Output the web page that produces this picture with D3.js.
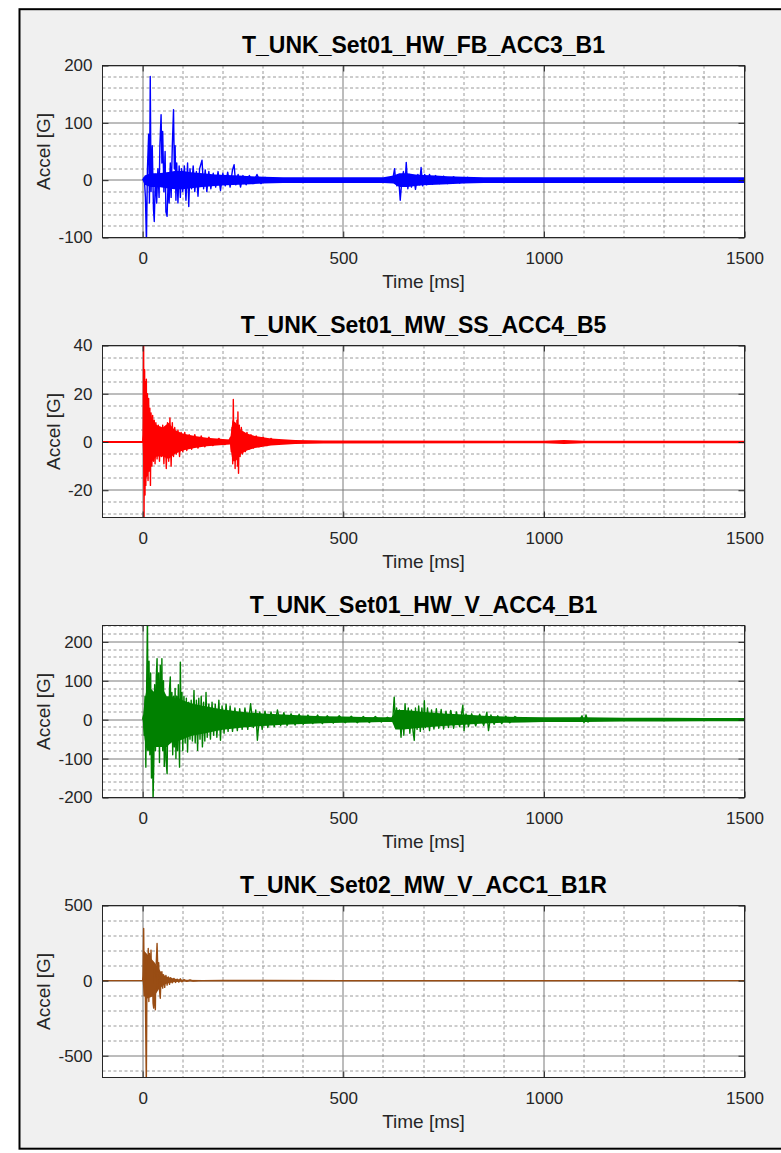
<!DOCTYPE html>
<html>
<head>
<meta charset="utf-8">
<script src="https://cdn.jsdelivr.net/npm/d3@7"></script>
<style>
  body { margin: 0; background: #ffffff; }
  text { font-family: "Liberation Sans", Arial, Helvetica, sans-serif; }
</style>
</head>
<body>
<div id="chart"></div>
<script>
// ********************************************************************************
// 1. Data: four accelerometer channels
//    spikes = [time ms, accel G] extremes, band = [time ms, low G, high G] noise band
// ********************************************************************************

var titles = ["T_UNK_Set01_HW_FB_ACC3_B1", "T_UNK_Set01_MW_SS_ACC4_B5", "T_UNK_Set01_HW_V_ACC4_B1", "T_UNK_Set02_MW_V_ACC1_B1R"];
var colors = ["#0000ff", "#ff0000", "#008000", "#994d14"];

var xDomain = [-100, 1500];
var xTicks = [0, 500, 1000, 1500];
var xMinorStep = 100;

var yDomains = [[-100, 200], [-31.3, 40], [-200, 242], [-645, 500]];
var yTicks = [[-100, 0, 100, 200], [-20, 0, 20, 40], [-200, -100, 0, 100, 200], [-500, 0, 500]];
var yMinorSteps = [20, 5, 20, 100];

var blueSpikes = [[0,0],[4,5],[7,-30],[9.5,-110],[12,20],[15,80],[17,-40],[19,181],[21,-20],[24,60],[27,-50],[29,-72],[32,10],[35,-40],[38,20],[41,-30],[43,60],[46,114],[48,30],[50,85],[53,-20],[56,50],[58,-55],[61,-63],[64,10],[66,-40],[69,30],[71,-30],[74,60],[77,123],[79,20],[81,60],[83,-35],[85,30],[88,-40],[91,25],[94,-30],[97,20],[100,-20],[104,25],[108,-35],[112,30],[115,-46],[118,20],[122,-15],[126,25],[130,-20],[134,15],[138,-28],[142,20],[148,35],[152,-15],[156,18],[160,-20],[165,15],[170,-15],[176,12],[182,-12],[188,15],[194,-18],[200,12],[206,-10],[212,14],[218,-12],[224,18],[228,27],[232,-8],[238,10],[244,-12],[250,8],[258,-8],[266,8],[275,-6],[285,10],[295,-6],[305,5],[315,0],[620,0],[624,4],[628,20],[631,-5],[634,-10],[638,5],[642,-35],[646,0],[650,15],[654,-10],[657,31],[661,-15],[665,10],[670,-12],[675,8],[680,-16],[686,10],[690,-8],[694,22],[698,-10],[703,10],[708,-8],[715,10],[722,-7],[730,8],[740,-6],[750,7],[760,-6],[775,6],[790,-5],[810,5],[830,0],[1500,0]];
var blueBand = [[0,0,0],[5,-8,8],[20,-12,12],[40,-12,12],[60,-14,14],[80,-16,16],[100,-16,16],[120,-14,14],[150,-12,12],[180,-10,10],[210,-9,9],[240,-8,8],[270,-7,7],[300,-6,6],[350,-5,5],[400,-5,5],[500,-5,5],[600,-5,5],[625,-6,8],[640,-12,12],[660,-12,12],[680,-10,10],[700,-9,9],[730,-8,8],[760,-7,7],[800,-6,6],[850,-5,5],[1000,-5,5],[1500,-5,5]];

var redSpikes = [[-100,0],[0,0],[1.5,3],[2.5,45],[3.5,-35],[5,30],[6,-22],[7,25],[8,-18],[9.3,26],[10.5,-14],[12,20],[13.5,-16],[15,18],[16.5,-12],[18,14],[19.5,-18],[21,12],[23,-10],[25,11],[27,-8],[29,9],[31,-9],[33,8],[36,-7],[39,7],[42,-8],[44,6],[47,-6],[50,7],[53,-9],[56,6],[59,-11],[62,8],[65,-8],[68,10],[71,-10],[74,8],[77,-6],[80,6],[84,-5],[88,5],[92,-6],[96,4],[100,-4],[105,4],[110,-3.5],[116,3],[122,-3],[130,3],[138,-2.5],[146,2.5],[155,-2],[165,2],[175,-1.5],[190,1.5],[205,-1],[215,0.5],[219,2],[221,-4],[223,6],[224.5,-9],[226,17.6],[227.5,-6],[229,8],[230.5,-11],[232,7],[233.5,-7],[235,9],[236.5,-10],[237.5,12.5],[239,-13],[241,7],[243,-6],[246,6],[249,-5],[252,4],[256,-4],[260,4],[265,-3],[270,3],[276,-2.5],[283,2.5],[290,-2],[300,2],[310,-1.5],[320,1.5],[335,-1],[350,0],[1500,0]];
var redBand = [[-100,-0.4,0.4],[0,-0.4,0.4],[3,-20,25],[9,-15,20],[15,-12,14],[23,-8,10],[35,-6,7],[50,-6,6],[65,-7,8],[80,-5,5],[100,-3.5,3.5],[130,-2.5,2.5],[160,-1.8,1.8],[200,-1.2,1.2],[218,-1,1],[224,-8,9],[232,-8,8],[245,-5,5],[260,-3.5,3.5],[280,-2.5,2.5],[320,-1.5,1.5],[380,-0.8,0.8],[450,-0.6,0.6],[1000,-0.5,0.5],[1050,-0.8,0.8],[1100,-0.5,0.5],[1500,-0.5,0.5]];

var greenSpikes = [[0,0],[2,10],[4,-40],[6,60],[8,-122],[10,80],[12,260],[14,-60],[16,150],[18,-90],[20,120],[22,-150],[24,50],[26,-210],[28,-100],[30,90],[32,-80],[34,110],[36,157],[38,-40],[40,120],[42,-110],[44,140],[46,-60],[48,157],[50,-80],[52,100],[54,-120],[56,60],[58,-100],[61,-139],[63,40],[65,-60],[67,80],[69,110],[71,-50],[73,70],[75,-90],[77,60],[79,-70],[81,80],[83,-100],[85,60],[87,-80],[89,90],[91,-60],[92,-122],[94,148],[96,-40],[98,70],[100,-80],[103,60],[106,-60],[109,55],[112,-83],[115,45],[118,-50],[121,50],[124,-55],[128,75],[131,-60],[134,50],[137,-79],[140,55],[143,-50],[146,60],[149,-70],[152,45],[155,-55],[158,70],[161,-45],[165,40],[169,-50],[173,45],[177,-40],[181,40],[185,-45],[190,50],[194,-53],[198,35],[203,-35],[208,40],[213,-30],[218,35],[224,-30],[230,30],[236,-28],[242,28],[248,-25],[255,30],[262,-25],[269,41],[276,-20],[282,25],[286,-53],[292,20],[298,-25],[305,22],[312,-20],[320,20],[328,-18],[336,25],[344,-15],[352,18],[360,-15],[370,15],[380,-14],[390,14],[400,-12],[412,12],[424,-10],[436,12],[448,-10],[460,10],[475,-9],[490,10],[505,-8],[520,9],[535,-8],[550,8],[565,-7],[580,8],[595,-6],[610,6],[620,0],[624,10],[627,58],[630,-10],[633,30],[636,-20],[640,25],[644,-45],[648,20],[651,-40],[654,41],[658,-20],[662,30],[666,-35],[670,25],[674,-30],[677,-53],[680,30],[684,-25],[688,35],[692,-30],[696,30],[700,-25],[702,49],[705,-20],[710,30],[715,-28],[720,25],[726,-24],[732,28],[738,-22],[744,26],[750,-24],[756,22],[762,-20],[768,24],[775,-22],[782,20],[790,-18],[798,37],[801,-28],[806,15],[812,-18],[820,15],[830,-16],[840,14],[850,-15],[858,19],[862,-28],[868,12],[876,-12],[885,10],[895,-10],[905,9],[915,-8],[928,8],[940,0],[1090,0],[1095,10],[1100,-8],[1105,12],[1110,-6],[1115,0],[1500,0]];
var greenBand = [[0,0,0],[5,-50,50],[10,-80,80],[20,-80,80],[30,-70,70],[40,-70,80],[50,-70,80],[60,-70,60],[70,-60,60],[80,-55,55],[90,-55,55],[100,-50,50],[120,-42,42],[140,-38,38],[160,-34,34],[180,-30,30],[200,-26,26],[250,-20,20],[300,-16,16],[350,-13,13],[400,-11,11],[450,-9,9],[500,-8,8],[550,-7,7],[600,-6,6],[622,-6,6],[630,-25,25],[650,-25,25],[680,-22,22],[700,-20,20],[750,-16,16],[800,-13,13],[850,-10,10],[900,-8,8],[950,-7,7],[1000,-6,6],[1100,-6,6],[1200,-5,5],[1300,-5,5],[1400,-4,4],[1500,-4,4]];

var brownSpikes = [[-100,0],[0,0],[1,30],[2.6,347],[4,-100],[5.5,150],[7,-120],[9.2,-700],[11,100],[12.5,-80],[14,214],[15.5,-139],[17,180],[19,-100],[20.9,203],[22.5,-60],[24,120],[26,-150],[27.6,-183],[29,50],[30.5,-120],[31.7,-194],[33,60],[34.5,150],[36,247],[38,60],[40,120],[42,-60],[44,-117],[46,30],[48,60],[50,-50],[52,40],[55,-45],[58,35],[61,-30],[64,25],[67,-25],[70,20],[74,-15],[78,15],[82,-12],[86,10],[90,-10],[94,12],[98,-8],[103,6],[110,-5],[118,4],[126,-3],[140,0],[1500,0]];
var brownBand = [[-100,-2,2],[0,-2,2],[3,-100,200],[10,-120,180],[20,-110,150],[30,-100,120],[40,-60,80],[50,-35,40],[60,-20,25],[80,-10,12],[100,-6,6],[150,-4,4],[200,-5,6],[300,-4,5],[500,-4,4],[1500,-3,3]];

var spikeSets = [blueSpikes, redSpikes, greenSpikes, brownSpikes];
var bandSets = [blueBand, redBand, greenBand, brownBand];


// ********************************************************************************
// 2. Set up the figure: dimensions, margins, panel positions
// ********************************************************************************

var svgWidth = 781;
var svgHeight = 1153;

var margin = { left: 102.5, right: 36.5 };
var chartWidth = svgWidth - margin.left - margin.right;   // 642
var chartHeight = 172;
var panelTops = [65.5, 345.5, 625.5, 905.5];

var axisColor = "#262626";

var svg = d3.select("#chart")
    .append("svg")
    .attr("width", svgWidth)
    .attr("height", svgHeight);

// Figure background with its frame
svg.append("rect")
    .attr("x", 19.5)
    .attr("y", 9.2)
    .attr("width", 800)
    .attr("height", 1139.5)
    .attr("fill", "#f0f0f0")
    .attr("stroke", "#000")
    .attr("stroke-width", 2);


// ********************************************************************************
// 3. Draw one panel: grid, data, box, ticks and labels
// ********************************************************************************

function drawPanel(i) {

    var chartGroup = svg.append("g")
        .attr("transform", `translate(${margin.left}, ${panelTops[i]})`);

    var xLinearScale = d3.scaleLinear().domain(xDomain).range([0, chartWidth]);
    var yLinearScale = d3.scaleLinear().domain(yDomains[i]).range([chartHeight, 0]);

    var snap = v => Math.round(v - 0.5) + 0.5;

    // white plot area
    chartGroup.append("rect")
        .attr("width", chartWidth)
        .attr("height", chartHeight)
        .attr("fill", "#fff");

    // minor grid (dotted)
    var xMinor = d3.range(xDomain[0] + xMinorStep, xDomain[1], xMinorStep).filter(d => xTicks.indexOf(d) < 0);
    var step = yMinorSteps[i];
    var yMinor = d3.range(Math.ceil(yDomains[i][0] / step) * step, yDomains[i][1], step)
        .filter(d => yTicks[i].indexOf(d) < 0 && d > yDomains[i][0]);

    chartGroup.append("g").selectAll("line").data(xMinor).enter()
        .append("line")
        .attr("x1", d => snap(xLinearScale(d)))
        .attr("x2", d => snap(xLinearScale(d)))
        .attr("y1", 0).attr("y2", chartHeight)
        .attr("stroke", "#9a9a9a")
        .attr("stroke-dasharray", "3,2.5");

    chartGroup.append("g").selectAll("line").data(yMinor).enter()
        .append("line")
        .attr("y1", d => snap(yLinearScale(d)))
        .attr("y2", d => snap(yLinearScale(d)))
        .attr("x1", 0).attr("x2", chartWidth)
        .attr("stroke", "#9a9a9a")
        .attr("stroke-dasharray", "3,2.5");

    // major grid (solid)
    chartGroup.append("g").selectAll("line").data(xTicks).enter()
        .append("line")
        .attr("x1", d => snap(xLinearScale(d)))
        .attr("x2", d => snap(xLinearScale(d)))
        .attr("y1", 0).attr("y2", chartHeight)
        .attr("stroke", "#7a7a7a");

    chartGroup.append("g").selectAll("line").data(yTicks[i]).enter()
        .append("line")
        .attr("y1", d => snap(yLinearScale(d)))
        .attr("y2", d => snap(yLinearScale(d)))
        .attr("x1", 0).attr("x2", chartWidth)
        .attr("stroke", "#7a7a7a");

    // clip the signal to the axes
    svg.append("clipPath")
        .attr("id", "clip" + i)
        .append("rect")
        .attr("width", chartWidth)
        .attr("height", chartHeight);

    var dataGroup = chartGroup.append("g").attr("clip-path", `url(#clip${i})`);

    var bandArea = d3.area()
        .x(d => xLinearScale(d[0]))
        .y0(d => yLinearScale(d[1]))
        .y1(d => yLinearScale(d[2]));

    dataGroup.append("path")
        .datum(bandSets[i])
        .attr("d", bandArea)
        .attr("fill", colors[i]);

    var spikeLine = d3.line()
        .x(d => xLinearScale(d[0]))
        .y(d => yLinearScale(d[1]));

    dataGroup.append("path")
        .datum(spikeSets[i])
        .attr("d", spikeLine)
        .attr("fill", "none")
        .attr("stroke", colors[i])
        .attr("stroke-width", 1.4)
        .attr("stroke-linejoin", "round");

    // axes box
    chartGroup.append("rect")
        .attr("width", chartWidth)
        .attr("height", chartHeight)
        .attr("fill", "none")
        .attr("stroke", axisColor);

    // axes with inward ticks
    var bottomAxis = d3.axisBottom(xLinearScale).tickValues(xTicks).tickSizeInner(-6).tickSizeOuter(0).tickPadding(14).tickFormat(d => String(d));
    var topAxis = d3.axisTop(xLinearScale).tickValues(xTicks).tickSizeInner(-6).tickSizeOuter(0).tickFormat("");
    var leftAxis = d3.axisLeft(yLinearScale).tickValues(yTicks[i]).tickSizeInner(-6).tickSizeOuter(0).tickPadding(10).tickFormat(d => String(d));
    var rightAxis = d3.axisRight(yLinearScale).tickValues(yTicks[i]).tickSizeInner(-6).tickSizeOuter(0).tickFormat("");

    var gx = chartGroup.append("g").attr("transform", `translate(0, ${chartHeight})`).call(bottomAxis);
    var gxt = chartGroup.append("g").call(topAxis);
    var gy = chartGroup.append("g").call(leftAxis);
    var gyr = chartGroup.append("g").attr("transform", `translate(${chartWidth}, 0)`).call(rightAxis);

    [gx, gxt, gy, gyr].forEach(function (g) {
        g.select(".domain").remove();
        g.selectAll("line").attr("stroke", axisColor);
        g.selectAll("text")
            .attr("fill", axisColor)
            .attr("font-size", 17)
            .attr("font-family", "Liberation Sans, Arial, sans-serif");
    });

    // title
    chartGroup.append("text")
        .attr("x", chartWidth / 2)
        .attr("y", -13)
        .attr("text-anchor", "middle")
        .attr("font-size", 23)
        .attr("font-weight", "bold")
        .attr("fill", "#000")
        .text(titles[i]);

    // axis labels
    chartGroup.append("text")
        .attr("x", chartWidth / 2)
        .attr("y", chartHeight + 50)
        .attr("text-anchor", "middle")
        .attr("font-size", 19)
        .attr("fill", axisColor)
        .text("Time [ms]");

    var tickLeft = d3.min(gy.selectAll("text").nodes(), n => n.getBBox().x);
    var labelX = tickLeft - 8;

    chartGroup.append("text")
        .attr("transform", `translate(${labelX}, ${chartHeight / 2}) rotate(-90)`)
        .attr("text-anchor", "middle")
        .attr("font-size", 19)
        .attr("fill", axisColor)
        .text("Accel [G]");
}

titles.forEach(function (t, i) { drawPanel(i); });
</script>
</body>
</html>
